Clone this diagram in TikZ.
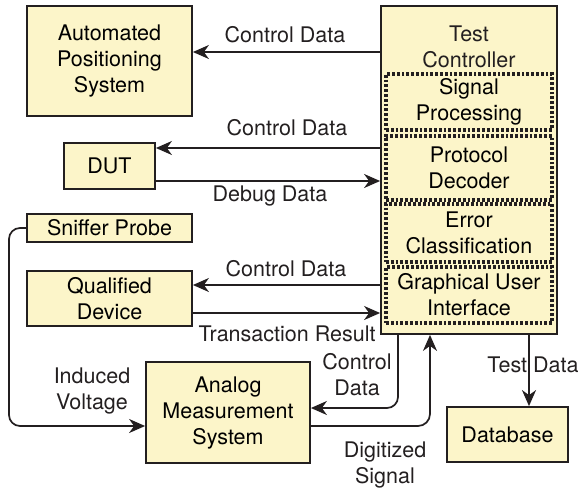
\documentclass[tikz,border=0pt]{standalone}
\usepackage{fontspec}
\setmainfont{TeX Gyre Heros}
\usetikzlibrary{arrows.meta}
\definecolor{boxfill}{RGB}{252,245,201}
\definecolor{ink}{RGB}{35,31,32}
\begin{document}
\begin{tikzpicture}[x=1pt,y=-1pt,
  font=\fontsize{21.5}{26}\selectfont,
  block/.style={draw=ink,fill=boxfill,line width=1.8pt,align=center,inner sep=0pt},
  part/.style={draw=ink,line width=3.2pt,dash pattern=on 2.8pt off 2.0pt,align=center,inner sep=0pt},
  arr/.style={draw=ink,line width=1.7pt,-{Stealth[length=16pt,width=14pt,inset=5pt]}},
  link/.style={draw=ink,line width=1.7pt},
  lbl/.style={text=ink,align=center,inner sep=0pt}]
\useasboundingbox (0,0) rectangle (581,491);

% main blocks
\node[block,minimum width=165pt,minimum height=110pt] (aps) at (109.5,61) {Automated\\Positioning\\System};
\node[block,minimum width=176pt,minimum height=328pt] (tc) at (469,170) {};
\node[lbl] (tctitle) at (469,47) {Test\\Controller};
\node[block,minimum width=91pt,minimum height=46pt] (dut) at (109.5,166) {DUT};
\node[block,minimum width=165pt,minimum height=28pt] (snif) at (109.5,228) {Sniffer Probe};
\node[block,minimum width=165pt,minimum height=55pt] (qd) at (109.5,298.5) {Qualified\\Device};
\node[block,minimum width=164pt,minimum height=101pt] (ams) at (228,412.5) {Analog\\Measurement\\System};
\node[block,minimum width=121pt,minimum height=55pt] (db) at (507.5,434.5) {Database};

% software parts inside the test controller
\node[part,minimum width=166pt,minimum height=56pt] (sp) at (469,102) {Signal\\Processing};
\node[part,minimum width=166pt,minimum height=64pt] (pd) at (469,168) {Protocol\\Decoder};
\node[part,minimum width=166pt,minimum height=58pt] (ec) at (469,233) {Error\\Classification};
\node[part,minimum width=166pt,minimum height=56pt] (gui) at (469,295) {Graphical User\\Interface};

% row heights of the horizontal connectors
\coordinate (r1) at (0,52);
\coordinate (r2) at (0,148);
\coordinate (r3) at (0,181);
\coordinate (r4) at (0,285);
\coordinate (r5) at (0,313);
% turning points of the routed connectors
\coordinate (sl) at (9,0);
\coordinate (cd) at (398,408);
\coordinate (dg) at (430,426);
\coordinate (td) at (529,0);

\draw[arr] (r1 -| tc.west) -- (r1 -| aps.east);
\draw[arr] (r2 -| tc.west) -- (r2 -| dut.east);
\draw[arr] (r3 -| dut.east) -- (r3 -| tc.west);
\draw[arr] (r4 -| tc.west) -- (r4 -| qd.east);
\draw[arr] (r5 -| qd.east) -- (r5 -| tc.west);

\draw[arr,rounded corners=11pt] (snif.west) -- (snif.west -| sl) -- (sl |- dg) -- (dg -| ams.west);
\draw[arr,rounded corners=11pt] (tc.south -| cd) -- (cd) -- (cd -| ams.east);
\draw[arr,rounded corners=12pt] (dg -| ams.east) -- (dg) -- (dg |- tc.south);
\draw[arr] (tc.south -| td) -- (db.north -| td);

% connector labels
\node[lbl] at (285,35) {Control Data};
\node[lbl] at (287,128) {Control Data};
\node[lbl] at (270,196) {Debug Data};
\node[lbl] at (286,269) {Control Data};
\node[lbl] at (287,334) {Transaction Result};
\node[lbl] at (92,391) {Induced\\Voltage};
\node[lbl] at (357,375) {Control\\Data};
\node[lbl] at (385,465) {Digitized\\Signal};
\node[lbl] at (533,365) {Test Data};
\end{tikzpicture}
\end{document}
